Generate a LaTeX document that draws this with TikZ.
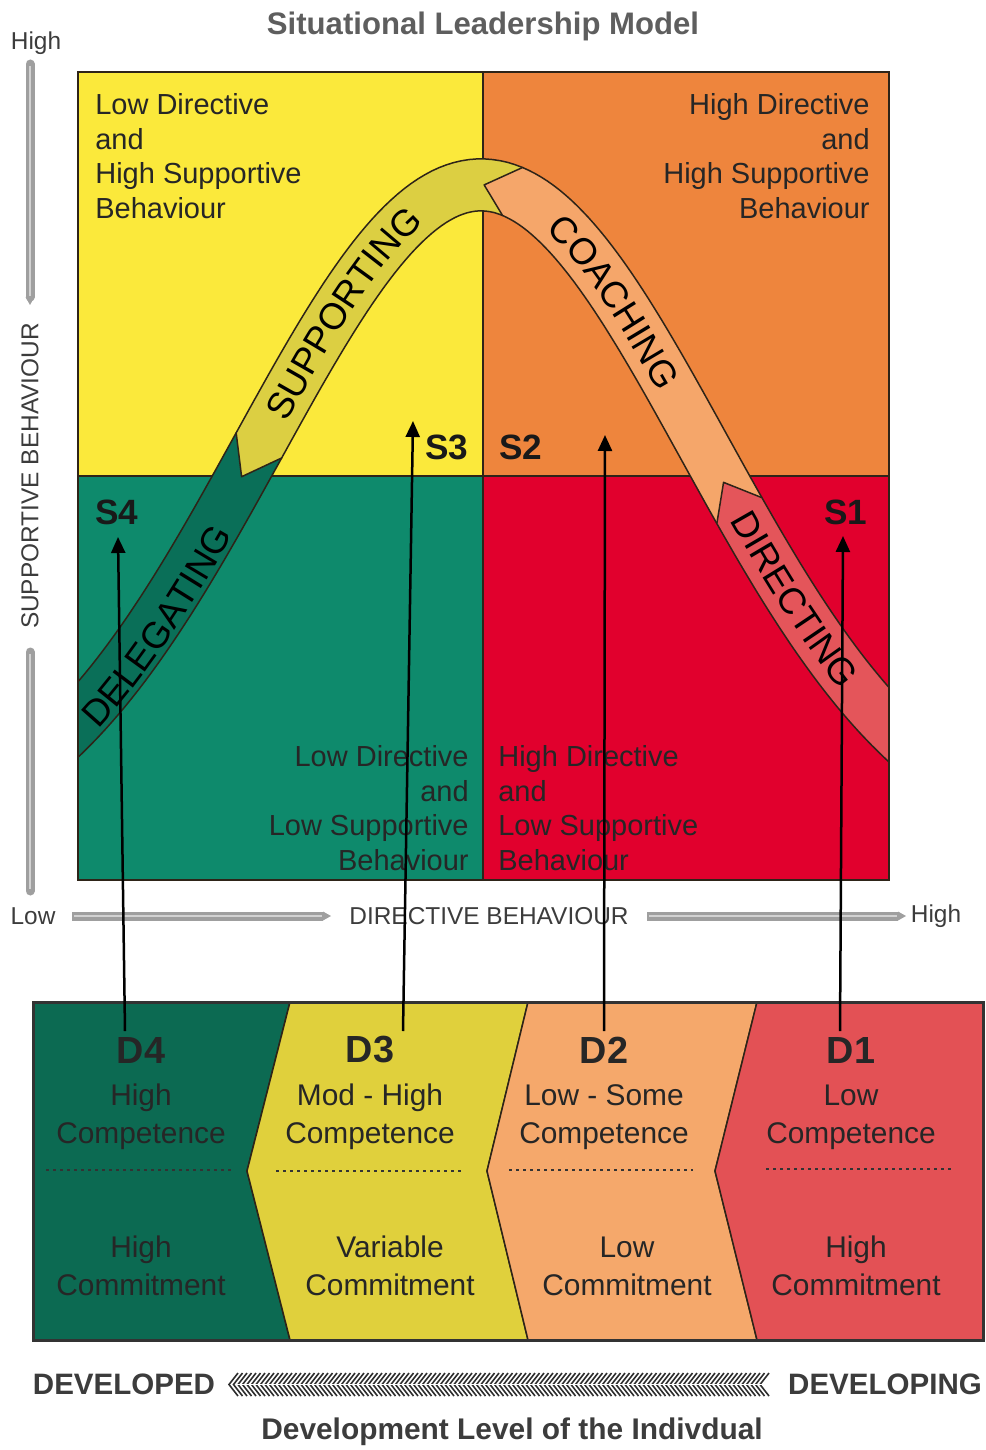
\documentclass[tikz,border=0pt]{standalone}
\usepackage{fontspec}
\setmainfont{Liberation Sans}
\setsansfont{Liberation Sans}
\usetikzlibrary{arrows.meta,decorations.text}

\definecolor{quadyellow}{HTML}{FBE93B}
\definecolor{quadorange}{HTML}{EE853D}
\definecolor{quadteal}{HTML}{0E8A6C}
\definecolor{quadred}{HTML}{E1002D}
\definecolor{bandteal}{HTML}{0A6F58}
\definecolor{bandyellow}{HTML}{DCCF42}
\definecolor{bandorange}{HTML}{F5A66A}
\definecolor{bandred}{HTML}{E4555A}
\definecolor{lvlteal}{HTML}{0C6A52}
\definecolor{lvlyellow}{HTML}{E0D03C}
\definecolor{lvlorange}{HTML}{F5A86B}
\definecolor{lvlred}{HTML}{E35155}
\definecolor{inkgray}{HTML}{3C3C3C}
\definecolor{titlegray}{HTML}{5E5E5E}
\definecolor{edge}{HTML}{2E2418}

\newcommand\quadfont{\fontsize{16.5}{19.8}\selectfont}
\newcommand\bandfont{\fontsize{21}{21}\selectfont}
\newcommand\axisfont{\fontsize{13.9}{16}\selectfont}
\newcommand\slabelfont{\fontsize{20}{20}\selectfont\bfseries}
\newcommand\dfont{\fontsize{21.5}{21.5}\selectfont\bfseries}
\newcommand\lvlfont{\fontsize{17}{21.5}\selectfont}
\newcommand\footfont{\fontsize{16.8}{18}\selectfont\bfseries}

\begin{document}
\begin{tikzpicture}[x=0.2mm, y=-0.2mm,
  declare function={bell(\u)=850-665*exp(-\u*\u);
                    slope(\u)=4.222*\u*exp(-\u*\u);
                    bandx(\u,\w)=481+315*\u-\w*slope(\u)/sqrt(1+slope(\u)*slope(\u));
                    bandy(\u,\w)=bell(\u)+\w/sqrt(1+slope(\u)*slope(\u));},
  bandseg/.style={draw=edge, line width=0.3mm, line join=round},
  bandtext/.style={decorate, decoration={text along path, text align=center, text={|\bandfont|#1}}},
  quadtext/.style={font=\quadfont, text=black!85, inner sep=0pt},
  slabel/.style={font=\slabelfont, text=black!90, inner sep=0pt},
  axlabel/.style={font=\axisfont, text=inkgray, inner sep=0pt},
  axbar/.style={line width=1.8mm, draw=gray!75},
  axstripe/.style={line width=0.25mm, draw=gray!35},
  axtip/.style={-{Triangle[length=1.6mm, width=1.8mm, line width=0pt]}},
  lvlbox/.style={draw=edge, line width=0.3mm},
  dlabel/.style={font=\dfont, text=black!85, inner sep=0pt},
  lvltext/.style={font=\lvlfont, text=black!85, align=center, inner sep=0pt},
  dotsep/.style={line width=0.5mm, black!80, dash pattern=on 0.5mm off 0.9mm},
  lvlarrow/.style={line width=0.5mm, -{Triangle[length=3.2mm, width=2.8mm]}},
  herring/.style={line width=0.32mm, draw=black!82},
  foottext/.style={font=\footfont, text=inkgray, inner sep=0pt}]

\useasboundingbox (0,0) rectangle (985,1450);

\node[font=\fontsize{17.7}{20}\selectfont\bfseries, text=titlegray] (title) at (483,26) {Situational Leadership Model};

% the four quadrants
\fill[quadyellow] (78,72) rectangle (483,476);
\fill[quadorange] (483,72) rectangle (889,476);
\fill[quadteal] (78,476) rectangle (483,880);
\fill[quadred] (483,476) rectangle (889,880);
\draw[edge, line width=0.45mm] (483,72) -- (483,880) (78,476) -- (889,476);

% the bell shaped band, each piece pointing into the next one
\begin{scope}[variable=\t, samples=45]
\clip (78,72) rectangle (889,880);
\filldraw[bandseg, fill=bandteal]
  plot[domain=-1.6:-0.705] ({bandx(\t,-26)},{bandy(\t,-26)})
  -- plot[domain=-0.705:-1.6] ({bandx(\t,26)},{bandy(\t,26)}) -- cycle;
\filldraw[bandseg, fill=bandyellow]
  plot[domain=-0.705:0.10] ({bandx(\t,-26)},{bandy(\t,-26)})
  -- plot[domain=0.10:-0.705] ({bandx(\t,26)},{bandy(\t,26)})
  -- ({bandx(-0.76,0)},{bandy(-0.76,0)}) -- cycle;
\filldraw[bandseg, fill=bandorange]
  plot[domain=0.10:0.82] ({bandx(\t,-26)},{bandy(\t,-26)})
  -- plot[domain=0.82:0.10] ({bandx(\t,26)},{bandy(\t,26)})
  -- ({bandx(0.01,0)},{bandy(0.01,0)}) -- cycle;
\filldraw[bandseg, fill=bandred]
  plot[domain=0.82:1.6] ({bandx(\t,-26)},{bandy(\t,-26)})
  -- plot[domain=1.6:0.82] ({bandx(\t,26)},{bandy(\t,26)})
  -- ({bandx(0.77,0)},{bandy(0.77,0)}) -- cycle;
\path[bandtext=DELEGATING] plot[domain=-1.27:-0.84] ({bandx(\t,21)},{bandy(\t,21)});
\path[bandtext=SUPPORTING] plot[domain=-0.68:-0.16] ({bandx(\t,13)},{bandy(\t,13)});
\path[bandtext=COACHING] plot[domain=0.2:0.62] ({bandx(\t,13)},{bandy(\t,13)});
\path[bandtext=DIRECTING] plot[domain=0.79:1.22] ({bandx(\t,13)},{bandy(\t,13)});
\end{scope}
\draw[edge, line width=0.4mm] (78,72) rectangle (889,880);

\node[quadtext, align=left, anchor=north west] (tl) at (95,93) {Low Directive\\and\\High Supportive\\Behaviour};
\node[quadtext, align=right, anchor=north east] (tr) at (870,93) {High Directive\\and\\High Supportive\\Behaviour};
\node[quadtext, align=right, anchor=north east] (bl) at (469,745) {Low Directive\\and\\Low Supportive\\Behaviour};
\node[quadtext, align=left, anchor=north west] (br) at (498,745) {High Directive\\and\\Low Supportive\\Behaviour};

\node[slabel] (s3) at (447,447) {S3};
\node[slabel] (s2) at (521,447) {S2};
\node[slabel] (s4) at (117,512) {S4};
\node[slabel] (s1) at (846,512) {S1};

% axes
\node[axlabel] (yhigh) at (36,43) {High};
\node[axlabel] (ylow) at (33,916) {Low};
\node[axlabel, rotate=90] (ytitle) at (30,476) {SUPPORTIVE BEHAVIOUR};
\node[axlabel] (xtitle) at (489,916) {DIRECTIVE BEHAVIOUR};
\node[axlabel] (xhigh) at (936,916) {High};
\draw[axbar, axtip, line cap=round] (30,64) -- (30,305);
\draw[axstripe] (30,66) -- (30,296);
\draw[axbar, line cap=round] (30,652) -- (30,891);
\draw[axstripe] (30,654) -- (30,889);
\draw[axbar, axtip] (72,916) -- (331,916);
\draw[axstripe] (74,916) -- (322,916);
\draw[axbar, axtip] (647,916) -- (906,916);
\draw[axstripe] (649,916) -- (897,916);

% development levels
\filldraw[lvlbox, fill=lvlteal] (33,1002) -- (290,1002) -- (247,1171) -- (290,1340) -- (33,1340) -- cycle;
\filldraw[lvlbox, fill=lvlyellow] (290,1002) -- (528,1002) -- (487,1171) -- (528,1340) -- (290,1340) -- (247,1171) -- cycle;
\filldraw[lvlbox, fill=lvlorange] (528,1002) -- (757,1002) -- (715,1171) -- (757,1340) -- (528,1340) -- (487,1171) -- cycle;
\filldraw[lvlbox, fill=lvlred] (757,1002) -- (983,1002) -- (983,1340) -- (757,1340) -- (715,1171) -- cycle;
\draw[black!80, line width=0.6mm] (33,1002) rectangle (983,1340);

\node[dlabel] (d4) at (141,1050) {D4};
\node[dlabel] (d3) at (370,1050) {D3};
\node[dlabel] (d2) at (604,1050) {D2};
\node[dlabel] (d1) at (851,1050) {D1};
\node[lvltext] (comp4) at (141,1117) {High\\Competence};
\node[lvltext] (comp3) at (370,1117) {Mod - High\\Competence};
\node[lvltext] (comp2) at (604,1117) {Low - Some\\Competence};
\node[lvltext] (comp1) at (851,1117) {Low\\Competence};
\node[lvltext] (comm4) at (141,1266) {High\\Commitment};
\node[lvltext] (comm3) at (390,1266) {Variable\\Commitment};
\node[lvltext] (comm2) at (627,1266) {Low\\Commitment};
\node[lvltext] (comm1) at (856,1266) {High\\Commitment};
\draw[dotsep] (46,1170) -- (231,1170);
\draw[dotsep] (276,1171) -- (461,1171);
\draw[dotsep] (509,1170) -- (693,1170);
\draw[dotsep] (766,1169) -- (952,1169);

% arrows from each level to its style
\coordinate (d4foot) at (125,1031);
\coordinate (d3foot) at (403,1031);
\coordinate (d2foot) at (604,1031);
\coordinate (d1foot) at (840,1031);
\coordinate (s4tip) at (118,537);
\coordinate (s3tip) at (413,421);
\coordinate (s2tip) at (605,435);
\coordinate (s1tip) at (843,536);
\draw[lvlarrow] (d4foot) -- (s4tip);
\draw[lvlarrow] (d3foot) -- (s3tip);
\draw[lvlarrow] (d2foot) -- (s2tip);
\draw[lvlarrow] (d1foot) -- (s1tip);

% developed <-- developing
\node[foottext] (developed) at (124,1384) {DEVELOPED};
\node[foottext] (developing) at (885,1384) {DEVELOPING};
\foreach \x in {229,233.5,...,760}
  \draw[herring] (\x+9,1373) -- (\x,1384.5) -- (\x+9,1396);
\draw[white, line width=0.35mm] (236,1384.5) -- (769,1384.5);
\node[foottext, font=\fontsize{17}{18}\selectfont\bfseries] (devlevel) at (512,1432) {Development Level of the Indivdual};
\end{tikzpicture}
\end{document}
